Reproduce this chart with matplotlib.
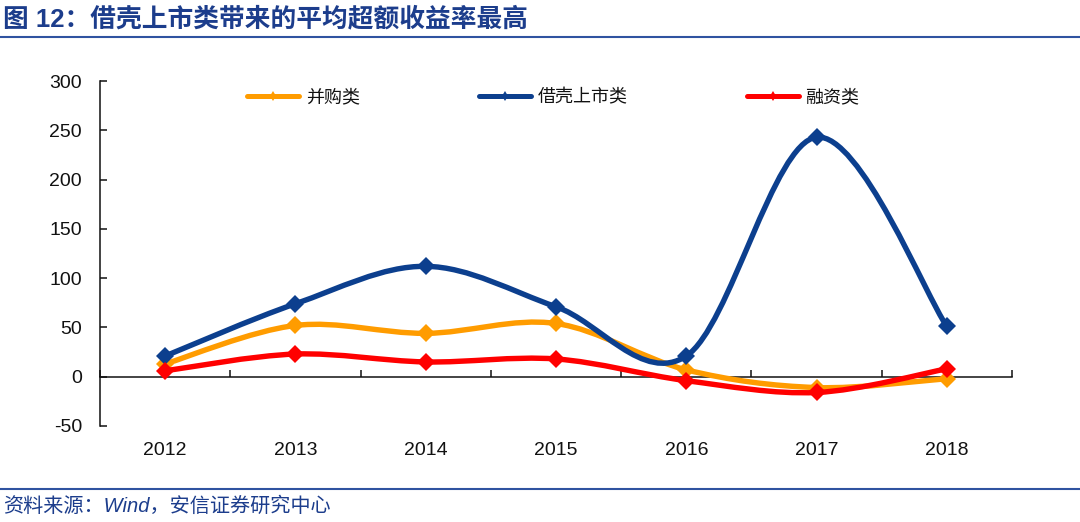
import matplotlib
matplotlib.use("Agg")
import matplotlib.pyplot as plt
from matplotlib.path import Path
from matplotlib.patches import PathPatch
from matplotlib.lines import Line2D
import numpy as np

plt.rcParams['font.family'] = ['Liberation Sans', 'Noto Sans CJK SC', 'DejaVu Sans']

years = ['2012', '2013', '2014', '2015', '2016', '2017', '2018']
series_names = ['并购类', '借壳上市类', '融资类']
merger = [13, 52, 44, 54, 7, -11, -2]
backdoor = [21, 74, 112, 71, 21, 243, 51]
financing = [6, 23, 15, 18, -4, -16, 8]
yticks = [-50, 0, 50, 100, 150, 200, 250, 300]

colors = ['#FF9C00', '#0C3F8E', '#FF0000']
series = [merger, backdoor, financing]

title = '图 12：借壳上市类带来的平均超额收益率最高'
source = '资料来源：Wind，安信证券研究中心'
text_blue = '#1C3D8C'
rule_blue = '#2F53A0'

fig = plt.figure(figsize=(10.8, 5.22), dpi=100)
ax = fig.add_axes([100/1080, 1-426/522, 912/1080, 345/522])

x = np.arange(len(years))


def smooth_path(xs, ys):
    pts = np.column_stack([xs, ys]).astype(float)
    n = len(pts)
    verts = [pts[0]]
    codes = [Path.MOVETO]
    for i in range(n - 1):
        p0 = pts[i - 1] if i > 0 else pts[i]
        p1 = pts[i]
        p2 = pts[i + 1]
        p3 = pts[i + 2] if i + 2 < n else pts[i + 1]
        c1 = p1 + (p2 - p0) / 6.0
        c2 = p2 - (p3 - p1) / 6.0
        verts += [c1, c2, p2]
        codes += [Path.CURVE4] * 3
    return Path(verts, codes)


for k, (vals, c) in enumerate(zip(series, colors)):
    patch = PathPatch(smooth_path(x, vals), fill=False, edgecolor=c, lw=3.9,
                      capstyle='round', joinstyle='round', zorder=3 + k)
    ax.add_patch(patch)
    ax.plot(x, vals, linestyle='none', marker='D', markersize=9.5, color=c,
            markeredgewidth=0, zorder=3 + k)

ax.set_xlim(-0.5, len(years) - 0.5)
ax.set_ylim(-50, 300)
ax.set_yticks(yticks)
ax.set_yticklabels([str(v) for v in yticks])

ax.spines['top'].set_visible(False)
ax.spines['right'].set_visible(False)
ax.spines['bottom'].set_position(('data', 0))
for s in ['left', 'bottom']:
    ax.spines[s].set_linewidth(1.1)
    ax.spines[s].set_color('#111111')

ax.set_xticks(np.arange(-0.5, len(years), 1.0))
ax.set_xticklabels([])
ax.tick_params(axis='x', direction='in', length=5, width=1.1, color='#111111')
ax.tick_params(axis='y', direction='in', length=5, width=1.1, color='#111111',
               labelsize=14, pad=13, labelcolor='#111111')

for i, yr in enumerate(years):
    ax.text(i, -0.07, yr, transform=ax.get_xaxis_transform(), ha='center',
            va='center', fontsize=14, color='#111111')

handles = [Line2D([0], [0], color=c, lw=3.6, marker='d', markersize=5,
                  markeredgewidth=0, solid_capstyle='round')
           for c in colors]
leg = ax.legend(handles, series_names, loc='center', bbox_to_anchor=(0.497, 0.953),
                ncol=3, frameon=False, fontsize=13, handlelength=2.9,
                handletextpad=0.35, columnspacing=6.6, numpoints=1,
                prop={'family': ['Noto Sans CJK SC'], 'size': 13})
for t in leg.get_texts():
    t.set_color('#111111')

fig.text(3/1080, 1-19/522, title, ha='left', va='center', fontsize=18.5,
         fontweight='bold', color=text_blue,
         family=['Liberation Sans', 'Noto Sans CJK SC'])
fig.add_artist(Line2D([0, 1], [1-37/522, 1-37/522], color=rule_blue, lw=1.5,
                      transform=fig.transFigure))
fig.add_artist(Line2D([0, 1], [1-489/522, 1-489/522], color=rule_blue, lw=1.5,
                      transform=fig.transFigure))
fig.text(3/1080, 1-506/522, source, ha='left', va='center', fontsize=14.5,
         style='italic', color=text_blue,
         family=['Liberation Sans', 'Noto Sans CJK SC'])

fig.savefig('out.png', dpi=100)
